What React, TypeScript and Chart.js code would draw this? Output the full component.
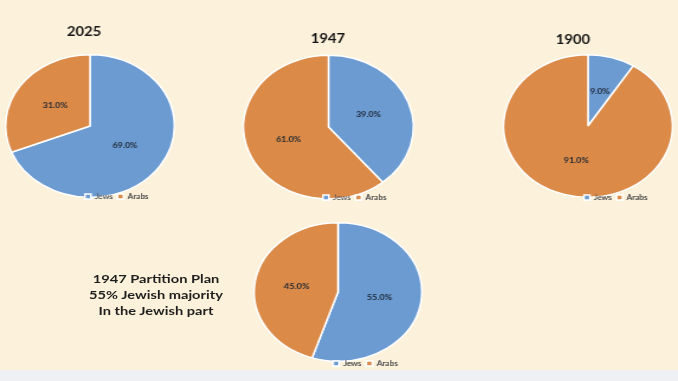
import React, { useEffect, useRef } from 'react';
import { Chart, registerables } from 'chart.js';

Chart.register(...registerables);

// ---- data ----
const categories = ['Jews', 'Arabs'];
const chartTitles = ['2025', '1947', '1900', ''];
const jewsShare = [69, 39, 9, 55];
const arabsShare = [31, 61, 91, 45];
const noteLines = ['1947 Partition Plan', '55% Jewish majority', 'In the Jewish part'];

// ---- styles ----
const BLUE = '#6C9BD2';
const ORANGE = '#DB8A48';
const BG = '#FCF1DA';
const FONT = 'Lato, "Open Sans", "DejaVu Sans", sans-serif';

// ---- placement (screen pixels) ----
const placements = [
  { cx: 90, cy: 126, rx: 85, ry: 72, tx: 84, ty: 31.5, lx: 85, ly: 196.5, top: 18, height: 190 },
  { cx: 328.5, cy: 127, rx: 85.5, ry: 72.5, tx: 328, ty: 39, lx: 323, ly: 197.5, top: 18, height: 190 },
  { cx: 588, cy: 126, rx: 85, ry: 72, tx: 573, ty: 39.5, lx: 584, ly: 197.5, top: 18, height: 190 },
  { cx: 338, cy: 292, rx: 85, ry: 70, tx: 338, ty: 0, lx: 333, ly: 363.5, top: 212, height: 158 },
];
const PADX = 20;

const placePlugin = {
  id: 'place',
  afterLayout(chart: any, _args: any, opts: any) {
    const { px, py, r, tx, ty, lx, ly } = opts;
    chart.chartArea = {
      left: px - r,
      right: px + r,
      top: py - r,
      bottom: py + r,
      width: 2 * r,
      height: 2 * r,
    };
    const t = chart.titleBlock;
    if (t && t.options && t.options.display) {
      const h = t.height;
      t.left = tx - 60;
      t.right = tx + 60;
      t.width = 120;
      t.top = ty - h / 2;
      t.bottom = ty + h / 2;
    }
    const l = chart.legend;
    if (l) {
      const p = l.options.labels.padding;
      const fs = l.options.labels.font.size;
      l.left = lx - p;
      l.right = l.left + l.width;
      l.top = ly - p - fs / 2;
      l.bottom = l.top + l.height;
    }
  },
  afterDatasetsDraw(chart: any) {
    // keep the legend on top of the pie, as in the source slide
    if (chart.legend) chart.legend.draw();
  },
};

const pctPlugin = {
  id: 'pct',
  afterDatasetsDraw(chart: any) {
    const ctx = chart.ctx;
    const meta = chart.getDatasetMeta(0);
    const data = chart.data.datasets[0].data as number[];
    ctx.save();
    ctx.font = `bold 7.5px ${FONT}`;
    ctx.fillStyle = '#1d2733';
    ctx.textAlign = 'center';
    ctx.textBaseline = 'middle';
    meta.data.forEach((arc: any, i: number) => {
      const p = arc.tooltipPosition(false);
      ctx.fillText(`${Number(data[i]).toFixed(1)}%`, p.x, p.y);
    });
    ctx.restore();
  },
};

function PieBox({ index }: { index: number }) {
  const ref = useRef<HTMLCanvasElement | null>(null);
  const pl = placements[index];
  const r = pl.ry;
  const s = pl.rx / pl.ry;
  const wu = Math.round(2 * (r + PADX));
  const px = wu / 2;

  useEffect(() => {
    if (!ref.current) return;
    const title = chartTitles[index];
    const chart = new Chart(ref.current, {
      type: 'pie',
      data: {
        labels: categories,
        datasets: [
          {
            data: [jewsShare[index], arabsShare[index]],
            backgroundColor: [BLUE, ORANGE],
            borderColor: '#ffffff',
            borderWidth: 1.5,
          },
        ],
      },
      options: {
        responsive: false,
        animation: false,
        events: [],
        plugins: {
          title: {
            display: title !== '',
            text: title,
            color: '#161616',
            font: { family: FONT, size: 12.5, weight: 'bold' },
            padding: 0,
          },
          legend: {
            display: true,
            position: 'bottom',
            align: 'start',
            labels: {
              boxWidth: 5,
              boxHeight: 5,
              padding: 4,
              color: '#5a5a5a',
              font: { family: FONT, size: 7 },
            },
          },
          tooltip: { enabled: false },
          place: {
            px,
            py: pl.cy - pl.top,
            r,
            tx: px + (pl.tx - pl.cx) / s,
            ty: pl.ty - pl.top,
            lx: px + (pl.lx - pl.cx) / s,
            ly: pl.ly - pl.top,
          },
        } as any,
      },
      plugins: [placePlugin, pctPlugin] as any,
    });
    return () => chart.destroy();
  }, [index]);

  return (
    <canvas
      ref={ref}
      width={wu}
      height={pl.height}
      style={{
        position: 'absolute',
        left: pl.cx - px * s,
        top: pl.top,
        width: wu * s,
        height: pl.height,
      }}
    />
  );
}

export default function App() {
  return (
    <div
      style={{
        position: 'fixed',
        left: 0,
        top: 0,
        width: 678,
        height: 381,
        background: BG,
        overflow: 'hidden',
      }}
    >
      {placements.map((_, i) => (
        <PieBox key={i} index={i} />
      ))}
      <div
        style={{
          position: 'absolute',
          left: 56,
          top: 270.5,
          width: 200,
          textAlign: 'center',
          fontFamily: FONT,
          fontWeight: 'bold',
          fontSize: 12,
          lineHeight: '16.3px',
          color: '#1e1e1e',
          transform: 'scaleX(1.22)',
          transformOrigin: '50% 50%',
        }}
      >
        {noteLines.map((t, i) => (
          <div key={i}>{t}</div>
        ))}
      </div>
      <div
        style={{
          position: 'absolute',
          left: 0,
          top: 370,
          width: 678,
          height: 11,
          background: '#EEF0F3',
        }}
      />
    </div>
  );
}
